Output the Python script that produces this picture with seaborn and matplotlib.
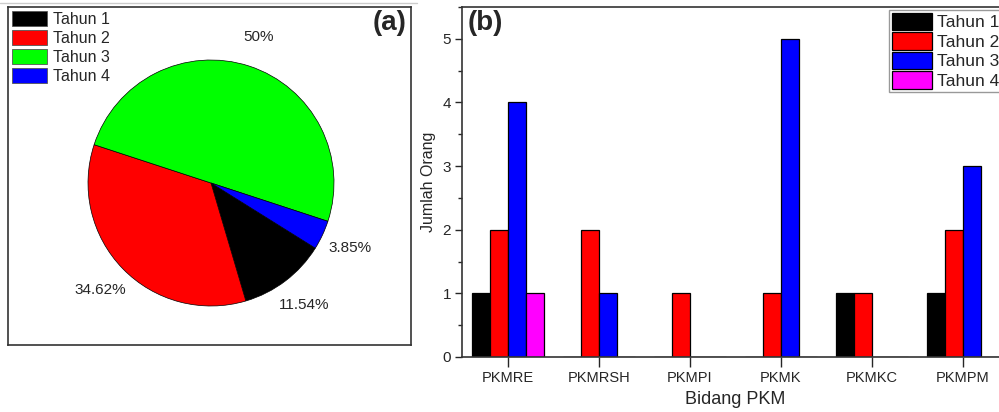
import numpy as np
import pandas as pd
import seaborn as sns
import matplotlib.pyplot as plt
from matplotlib.patches import Patch
from matplotlib.lines import Line2D
from matplotlib.ticker import MultipleLocator

# data
years = ['Tahun 1', 'Tahun 2', 'Tahun 3', 'Tahun 4']
pie_counts = [3, 9, 13, 1]
pie_colors = ['#000000', '#ff0000', '#00ff00', '#0000ff']

fields = ['PKMRE', 'PKMRSH', 'PKMPI', 'PKMK', 'PKMKC', 'PKMPM']
tahun1 = [1, 0, 0, 0, 1, 1]
tahun2 = [2, 2, 1, 1, 1, 2]
tahun3 = [4, 1, 0, 5, 0, 3]
tahun4 = [1, 0, 0, 0, 0, 0]
bar_colors = ['#000000', '#ff0000', '#0000ff', '#ff00ff']

sns.set_style("ticks")
plt.rcParams['font.family'] = ['Liberation Sans', 'DejaVu Sans']

W, H = 999, 412
fig = plt.figure(figsize=(W / 100, H / 100), dpi=100)

# thin grey border line of the scanned image at the top left
fig.add_artist(Line2D([0, 417 / W], [1 - 3 / H, 1 - 3 / H], color='#cccccc', lw=1))

# ---- (a) pie ----
ax1 = fig.add_axes([8 / W, (H - 345) / H, 403 / W, 338 / H])
wedges, texts, autotexts = ax1.pie(
    pie_counts, colors=pie_colors, startangle=-32, counterclock=False,
    radius=123, center=(0, 0), frame=True,
    autopct=lambda p: f"{p:.2f}".rstrip('0').rstrip('.') + '%',
    pctdistance=1.25, textprops={'fontsize': 11},
    wedgeprops={'edgecolor': 'black', 'linewidth': 0.5})
ax1.set_aspect('auto')
ax1.set_xlim(-203, 200)
ax1.set_ylim(-162, 176)
ax1.set_xticks([])
ax1.set_yticks([])
for s in ax1.spines.values():
    s.set_visible(True)
    s.set_color('#333333')
    s.set_linewidth(1.2)
ax1.text(0.99, 0.99, '(a)', transform=ax1.transAxes, ha='right', va='top',
         fontsize=20, fontweight='bold')
handles = [Patch(facecolor=c, edgecolor='#555555', linewidth=0.6) for c in pie_colors]
ax1.legend(handles, years, loc='upper left', bbox_to_anchor=(12 / W, 1 - 11 / H),
           bbox_transform=fig.transFigure, frameon=False, fontsize=11.5,
           handlelength=2.2, handleheight=1.06, labelspacing=0.19,
           handletextpad=0.375, borderpad=0, borderaxespad=0)

# ---- (b) bars ----
rows = []
for name, vals in zip(years, [tahun1, tahun2, tahun3, tahun4]):
    for f, v in zip(fields, vals):
        rows.append({'Bidang PKM': f, 'Jumlah Orang': v, 'Tahun': name})
df = pd.DataFrame(rows)

ax2 = fig.add_axes([462 / W, (H - 357) / H, 546.5 / W, 350 / H])
sns.barplot(data=df, x='Bidang PKM', y='Jumlah Orang', hue='Tahun',
            palette=dict(zip(years, bar_colors)), width=0.8,
            edgecolor='black', linewidth=0.9, saturation=1, ax=ax2)
ax2.set_xlim(-0.505, 5.5)
ax2.set_ylim(0, 5.5)
ax2.yaxis.set_minor_locator(MultipleLocator(0.5))
ax2.tick_params(axis='y', which='major', direction='out', length=5, width=1,
                labelsize=11, pad=3)
ax2.tick_params(axis='y', which='minor', direction='out', length=3, width=1)
ax2.tick_params(axis='x', direction='out', length=7, width=1, labelsize=10.5, pad=3)
for s in ax2.spines.values():
    s.set_color('#333333')
    s.set_linewidth(1.2)
ax2.set_xlabel('Bidang PKM', fontsize=13)
ax2.set_ylabel('Jumlah Orang', fontsize=11.5)
ax2.xaxis.set_label_coords(0.5, -0.098)
ax2.yaxis.set_label_coords(-0.048, 0.5)
ax2.text(6 / 546.5, 1 - 3 / 350, '(b)', transform=ax2.transAxes, ha='left', va='top',
         fontsize=20, fontweight='bold')
ax2.legend(loc='upper left', bbox_to_anchor=((889 - 462) / 546.5, 1 - 3 / 350),
           title=None, fontsize=12.5, handlelength=2.3, handleheight=1.15,
           labelspacing=0.115, handletextpad=0.29, borderpad=0.17, borderaxespad=0,
           frameon=True, fancybox=False, edgecolor='#999999', framealpha=1)

fig.savefig('out.png', dpi=100)
